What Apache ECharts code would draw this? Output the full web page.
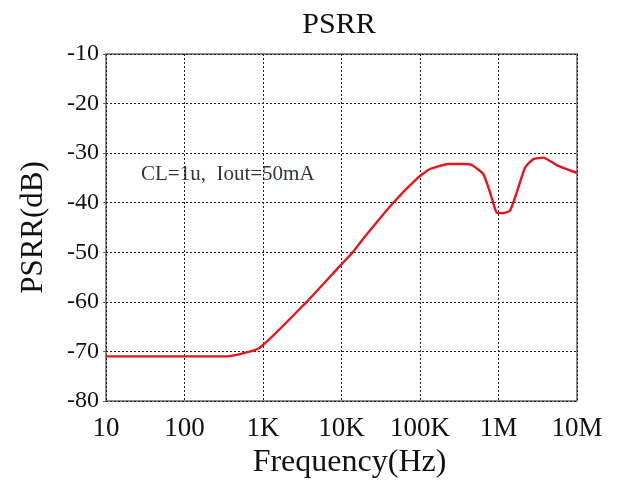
<!DOCTYPE html>
<html>
<head>
<meta charset="utf-8">
<script src="https://cdn.jsdelivr.net/npm/echarts@6/dist/echarts.min.js"></script>
<style>
html,body{margin:0;padding:0;background:#fff;}
#chart{width:625px;height:484px;}
</style>
</head>
<body>
<div id="chart"></div>
<script>
const freqHz = [10, 350, 900, 3600, 9000, 13900, 19000, 45700, 95000, 134000, 229000, 357000, 456000, 640000, 780000, 949000, 1150000, 1400000, 1710000, 2180000, 2780000, 3720000, 5510000, 10000000];
const psrrDb = [-71, -71, -69.3, -60, -53.2, -50, -47.2, -40, -34.9, -33.2, -32.2, -32.2, -32.4, -34.2, -37.9, -42.0, -42.1, -41.6, -37.9, -32.9, -31.2, -30.9, -32.4, -34.0];
const xTickLabels = {10:'10', 100:'100', 1000:'1K', 10000:'10K', 100000:'100K', 1000000:'1M', 10000000:'10M'};
const yTicks = [-80, -70, -60, -50, -40, -30, -20, -10];
const annotation = 'CL=1u,  Iout=50mA';

const serif = "'Liberation Serif', 'Times New Roman', serif";
const chart = echarts.init(document.getElementById('chart'), null, {renderer:'canvas'});
chart.setOption({
  animation: false,
  backgroundColor: '#fff',
  title: {
    text: 'PSRR', left: 334, top: 5, textAlign: 'center',
    textStyle: {fontFamily: serif, fontSize: 30, fontWeight: 'normal', color: '#111'}
  },
  grid: {left: 106, right: 48, top: 54, bottom: 81, show: true, borderColor: '#666', borderWidth: 1.5, backgroundColor: 'transparent'},
  xAxis: {
    type: 'log', logBase: 10, min: 10, max: 1e7,
    name: 'Frequency(Hz)', nameLocation: 'middle', nameGap: 46,
    nameTextStyle: {fontFamily: serif, fontSize: 32, color: '#111', padding: [0, 0, 0, 16]},
    axisLine: {show: false},
    axisTick: {show: false},
    axisLabel: {fontFamily: serif, fontSize: 27, color: '#111', margin: 14,
      formatter: v => xTickLabels[Math.round(v)] || ''},
    splitLine: {show: true, lineStyle: {color: '#222', width: 1, type: [2, 2]}},
    minorSplitLine: {show: false}
  },
  yAxis: {
    type: 'value', min: yTicks[0], max: yTicks[yTicks.length-1], interval: 10,
    name: 'PSRR(dB)', nameLocation: 'middle', nameGap: 57,
    nameTextStyle: {fontFamily: serif, fontSize: 31, color: '#111'},
    axisLine: {show: false},
    axisTick: {show: true, inside: false, length: 3, lineStyle: {color: '#666'}},
    axisLabel: {fontFamily: serif, fontSize: 24, color: '#111', margin: 7},
    splitLine: {show: true, lineStyle: {color: '#222', width: 1, type: [2, 2]}}
  },
  graphic: [{
    type: 'text', left: 141, top: 164,
    style: {text: annotation, font: "21px 'Liberation Serif', serif", fill: '#2f3a2f'}
  }],
  series: [{
    type: 'line',
    data: freqHz.map((f, i) => [f, psrrDb[i]]),
    showSymbol: false,
    smooth: 0.15,
    lineStyle: {color: '#e8141c', width: 2.4},
    z: 5
  }]
});
</script>
</body>
</html>
